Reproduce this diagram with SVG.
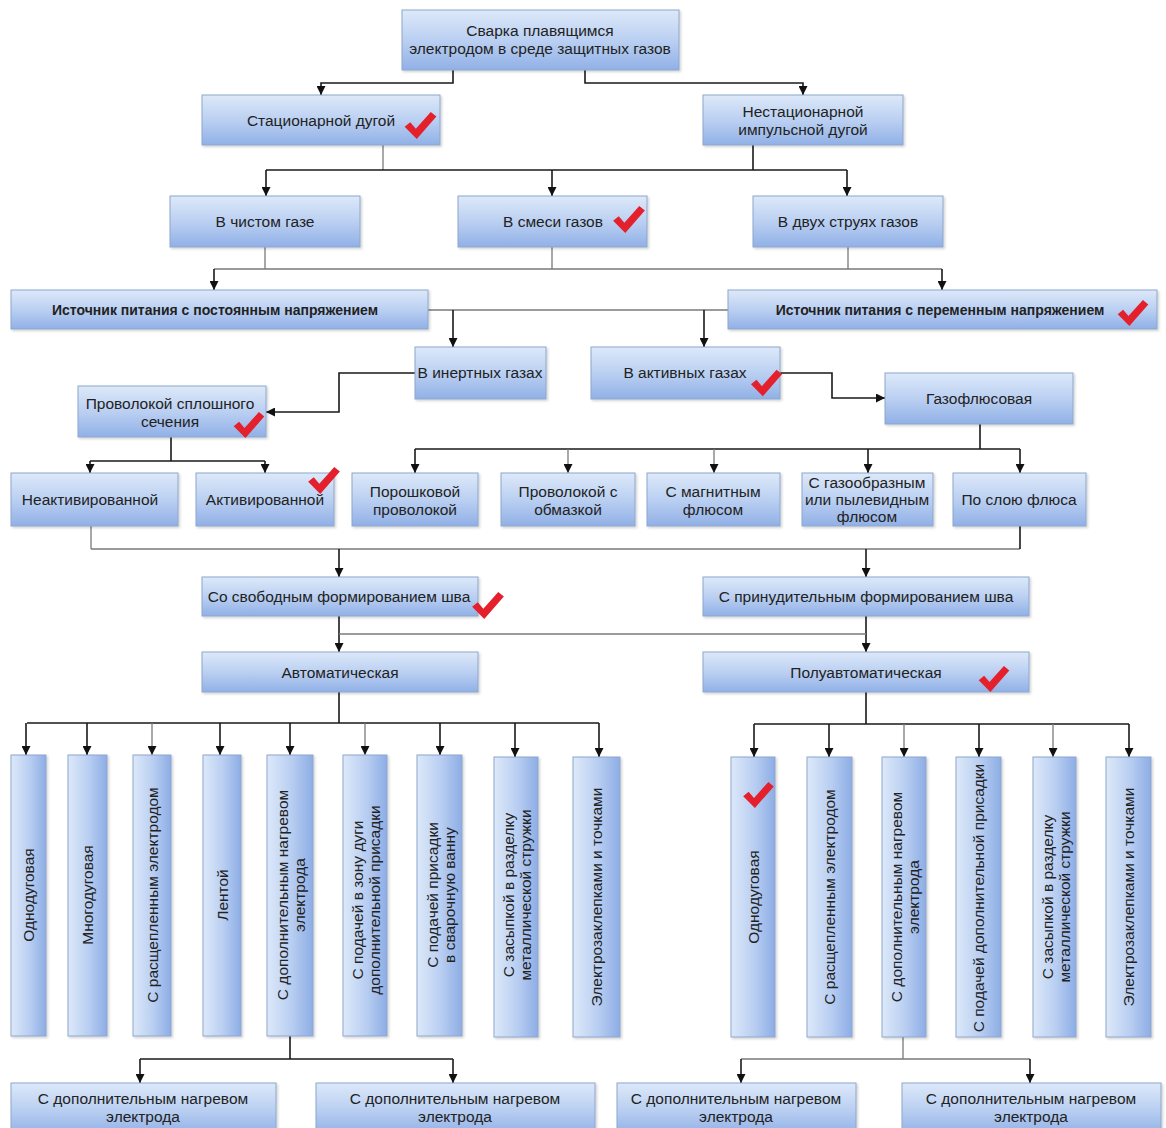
<svg xmlns="http://www.w3.org/2000/svg" xmlns:xlink="http://www.w3.org/1999/xlink" width="1166" height="1128" viewBox="0 0 1166 1128">
<style>
.b{fill:url(#gv);stroke:#8ea6cc;stroke-width:1;filter:url(#sh)}
.v{fill:url(#gh);stroke:#8ea6cc;stroke-width:1;filter:url(#sh)}
text{font-family:"Liberation Sans",Arial,sans-serif;font-size:15.5px;fill:#222;text-anchor:middle;dominant-baseline:central}
.bd{font-weight:bold;font-size:14px}
.k{fill:none;stroke:#1a1a1a;stroke-width:1.6}
.g{fill:none;stroke:#7a7a7a;stroke-width:1.3}
.a{marker-end:url(#ar)}
.c{fill:#e3202b}
</style>
<defs>
<linearGradient id="gv" x1="0" y1="0" x2="0" y2="1"><stop offset="0" stop-color="#dde9f9"/><stop offset="0.55" stop-color="#b7cdf1"/><stop offset="1" stop-color="#90b0e6"/></linearGradient>
<linearGradient id="gh" x1="0" y1="0" x2="1" y2="0"><stop offset="0" stop-color="#dde9f9"/><stop offset="0.55" stop-color="#b7cdf1"/><stop offset="1" stop-color="#8dade5"/></linearGradient>
<filter id="sh" x="-10%" y="-10%" width="130%" height="130%"><feDropShadow dx="1.5" dy="1.5" stdDeviation="1" flood-color="#000" flood-opacity="0.18"/></filter>
<marker id="ar" viewBox="0 0 10 10" refX="10" refY="5" markerWidth="9" markerHeight="9" markerUnits="userSpaceOnUse" orient="auto"><path d="M0,0 L10,5 L0,10 z" fill="#111"/></marker>
<symbol id="chk" viewBox="0 0 34 30"><polygon class="c" points="0,17 6,12 12,19 28,1 34,6 13,30"/></symbol>
</defs>
<rect width="1166" height="1128" fill="#fff"/>

<g id="connectors">
<path class="k a" d="M453,70 V83 H321 V95"/>
<path class="k a" d="M585,70 V83 H803 V95"/>
<path class="g" d="M383,145 V170"/>
<path class="k" d="M753,145 V170"/>
<path class="k" d="M266,170 H847"/>
<path class="k a" d="M266,170 V196"/>
<path class="k a" d="M552,170 V196"/>
<path class="k a" d="M847,170 V196"/>
<path class="g" d="M265,247 V269 M552,247 V269 M848,247 V269 M214,269 H942"/>
<path class="k a" d="M214,269 V290"/>
<path class="k a" d="M942,269 V290"/>
<path class="g" d="M428,310 H728"/>
<path class="k a" d="M453,310 V347"/>
<path class="k a" d="M704,310 V347"/>
<path class="k a" d="M415,373 H339 V412 H266"/>
<path class="k a" d="M780,373 H832 V398 H885"/>
<path class="k" d="M171,437 V461 M90,461 H265"/>
<path class="k a" d="M90,461 V473"/>
<path class="k a" d="M265,461 V473"/>
<path class="k" d="M980,424 V449 M415,449 H1020"/>
<path class="k a" d="M415,449 V473"/>
<path class="g a" d="M568,449 V473"/>
<path class="g a" d="M714,449 V473"/>
<path class="k a" d="M868,449 V473"/>
<path class="k a" d="M1020,449 V473"/>
<path class="g" d="M91,526 V549 M91,549 H1020"/>
<path class="k" d="M1020,526 V549"/>
<path class="k a" d="M339,549 V577"/>
<path class="k a" d="M866,549 V577"/>
<path class="k a" d="M339,616 V652"/>
<path class="k a" d="M866,616 V652"/>
<path class="g" d="M339,634 H866"/>
<path class="k" d="M339,692 V723 M27,723 H599"/>
<path class="k a" d="M26,723 V755"/>
<path class="k a" d="M87,723 V755"/>
<path class="g a" d="M152,723 V755"/>
<path class="k a" d="M220,723 V755"/>
<path class="k a" d="M290,723 V755"/>
<path class="g a" d="M365,723 V755"/>
<path class="k a" d="M440,723 V755"/>
<path class="k a" d="M515,723 V757"/>
<path class="k a" d="M599,723 V757"/>
<path class="k" d="M866,692 V724 M754,724 H1129"/>
<path class="k a" d="M754,724 V757"/>
<path class="k a" d="M829,724 V757"/>
<path class="g a" d="M904,724 V757"/>
<path class="k a" d="M979,724 V757"/>
<path class="g a" d="M1053,724 V757"/>
<path class="k a" d="M1129,724 V757"/>
<path class="k" d="M290,1036 V1059 M140,1059 H453"/>
<path class="k a" d="M140,1059 V1083"/>
<path class="k a" d="M453,1059 V1083"/>
<path class="g" d="M903,1037 V1059 M741,1059 H1030"/>
<path class="k a" d="M741,1059 V1083"/>
<path class="k a" d="M1030,1059 V1083"/>
</g>

<g id="n1"><rect class="b" x="402" y="10" width="277" height="60"/><text x="540" y="30">Сварка плавящимся</text><text x="540" y="48">электродом в среде защитных газов</text></g>
<g id="n2"><rect class="b" x="202" y="95" width="238" height="50"/><text x="321" y="120">Стационарной дугой</text></g>
<g id="n3"><rect class="b" x="703" y="95" width="200" height="50"/><text x="803" y="111">Нестационарной</text><text x="803" y="129">импульсной дугой</text></g>
<g id="n4"><rect class="b" x="170" y="196" width="190" height="51"/><text x="265" y="221">В чистом газе</text></g>
<g id="n5"><rect class="b" x="458" y="196" width="189" height="51"/><text x="553" y="221">В смеси газов</text></g>
<g id="n6"><rect class="b" x="753" y="196" width="190" height="51"/><text x="848" y="221">В двух струях газов</text></g>
<g id="n7"><rect class="b" x="11" y="290" width="417" height="39"/><text class="bd" x="215" y="310">Источник питания с постоянным напряжением</text></g>
<g id="n8"><rect class="b" x="728" y="290" width="429" height="39"/><text class="bd" x="940" y="310">Источник питания с переменным напряжением</text></g>
<g id="n9"><rect class="b" x="415" y="347" width="131" height="52"/><text x="480" y="372">В инертных газах</text></g>
<g id="n10"><rect class="b" x="591" y="347" width="189" height="52"/><text x="685" y="372">В активных газах</text></g>
<g id="n11"><rect class="b" x="885" y="373" width="188" height="51"/><text x="979" y="398">Газофлюсовая</text></g>
<g id="n12"><rect class="b" x="78" y="386" width="188" height="51"/><text x="170" y="403">Проволокой сплошного</text><text x="170" y="421">сечения</text></g>
<g id="n13"><rect class="b" x="11" y="473" width="167" height="53"/><text x="90" y="499">Неактивированной</text></g>
<g id="n14"><rect class="b" x="196" y="473" width="138" height="53"/><text x="265" y="499">Активированной</text></g>
<g id="n15"><rect class="b" x="352" y="473" width="126" height="53"/><text x="415" y="491">Порошковой</text><text x="415" y="509">проволокой</text></g>
<g id="n16"><rect class="b" x="501" y="473" width="134" height="53"/><text x="568" y="491">Проволокой с</text><text x="568" y="509">обмазкой</text></g>
<g id="n17"><rect class="b" x="647" y="473" width="133" height="53"/><text x="713" y="491">С магнитным</text><text x="713" y="509">флюсом</text></g>
<g id="n18"><rect class="b" x="802" y="473" width="131" height="53"/><text x="867" y="482">С газообразным</text><text x="867" y="499">или пылевидным</text><text x="867" y="516">флюсом</text></g>
<g id="n19"><rect class="b" x="953" y="473" width="133" height="53"/><text x="1019" y="499">По слою флюса</text></g>
<g id="n20"><rect class="b" x="202" y="577" width="276" height="39"/><text x="339" y="596">Со свободным формированием шва</text></g>
<g id="n21"><rect class="b" x="703" y="577" width="326" height="39"/><text x="866" y="596">С принудительным формированием шва</text></g>
<g id="n22"><rect class="b" x="202" y="652" width="276" height="40"/><text x="340" y="672">Автоматическая</text></g>
<g id="n23"><rect class="b" x="703" y="652" width="326" height="40"/><text x="866" y="672">Полуавтоматическая</text></g>

<g id="v1"><rect class="v" x="11" y="755" width="35" height="281"/><text transform="translate(28.5,895) rotate(-90)">Однодуговая</text></g>
<g id="v2"><rect class="v" x="68" y="755" width="39" height="281"/><text transform="translate(87.5,895) rotate(-90)">Многодуговая</text></g>
<g id="v3"><rect class="v" x="133" y="755" width="38" height="281"/><text transform="translate(152,895) rotate(-90)">С расщепленным электродом</text></g>
<g id="v4"><rect class="v" x="203" y="755" width="38" height="281"/><text transform="translate(222,895) rotate(-90)">Лентой</text></g>
<g id="v5"><rect class="v" x="267" y="755" width="46" height="281"/><text transform="translate(290,895) rotate(-90)"><tspan x="0" y="-8">С дополнительным нагревом</tspan><tspan x="0" y="9">электрода</tspan></text></g>
<g id="v6"><rect class="v" x="343" y="755" width="44" height="281"/><text transform="translate(365,900) rotate(-90)"><tspan x="0" y="-8">С подачей в зону дуги</tspan><tspan x="0" y="9">дополнительной присадки</tspan></text></g>
<g id="v7"><rect class="v" x="417" y="755" width="45" height="281"/><text transform="translate(440,895) rotate(-90)"><tspan x="0" y="-8">С подачей присадки</tspan><tspan x="0" y="9">в сварочную ванну</tspan></text></g>
<g id="v8"><rect class="v" x="494" y="757" width="44" height="280"/><text transform="translate(516,895) rotate(-90)"><tspan x="0" y="-8">С засыпкой в разделку</tspan><tspan x="0" y="9">металлической стружки</tspan></text></g>
<g id="v9"><rect class="v" x="573" y="757" width="47" height="280"/><text transform="translate(596.5,897) rotate(-90)">Электрозаклепками и точками</text></g>

<g id="w1"><rect class="v" x="731" y="757" width="44" height="280"/><text transform="translate(753,897) rotate(-90)">Однодуговая</text></g>
<g id="w2"><rect class="v" x="807" y="757" width="45" height="280"/><text transform="translate(829.5,897) rotate(-90)">С расщепленным электродом</text></g>
<g id="w3"><rect class="v" x="882" y="757" width="44" height="280"/><text transform="translate(904,897) rotate(-90)"><tspan x="0" y="-8">С дополнительным нагревом</tspan><tspan x="0" y="9">электрода</tspan></text></g>
<g id="w4"><rect class="v" x="956" y="757" width="45" height="280"/><text transform="translate(978.5,898) rotate(-90)">С подачей дополнительной присадки</text></g>
<g id="w5"><rect class="v" x="1033" y="757" width="43" height="280"/><text transform="translate(1054.5,897) rotate(-90)"><tspan x="0" y="-8">С засыпкой в разделку</tspan><tspan x="0" y="9">металлической стружки</tspan></text></g>
<g id="w6"><rect class="v" x="1106" y="757" width="45" height="280"/><text transform="translate(1128.5,897) rotate(-90)">Электрозаклепками и точками</text></g>

<g id="b1"><rect class="b" x="11" y="1083" width="265" height="52"/><text x="143" y="1098">С дополнительным нагревом</text><text x="143" y="1116">электрода</text></g>
<g id="b2"><rect class="b" x="316" y="1083" width="279" height="52"/><text x="455" y="1098">С дополнительным нагревом</text><text x="455" y="1116">электрода</text></g>
<g id="b3"><rect class="b" x="617" y="1083" width="239" height="52"/><text x="736" y="1098">С дополнительным нагревом</text><text x="736" y="1116">электрода</text></g>
<g id="b4"><rect class="b" x="902" y="1083" width="259" height="52"/><text x="1031" y="1098">С дополнительным нагревом</text><text x="1031" y="1116">электрода</text></g>

<g id="checks">
<use href="#chk" x="404" y="111" width="33" height="28"/>
<use href="#chk" x="612" y="205" width="34" height="28"/>
<use href="#chk" x="1116" y="299" width="34" height="27"/>
<use href="#chk" x="233" y="411" width="32" height="27"/>
<use href="#chk" x="308" y="466" width="32" height="28"/>
<use href="#chk" x="751" y="368" width="31" height="29"/>
<use href="#chk" x="472" y="591" width="32" height="28"/>
<use href="#chk" x="978" y="665" width="32" height="27"/>
<use href="#chk" x="742" y="781" width="33" height="27"/>
</g>
</svg>
